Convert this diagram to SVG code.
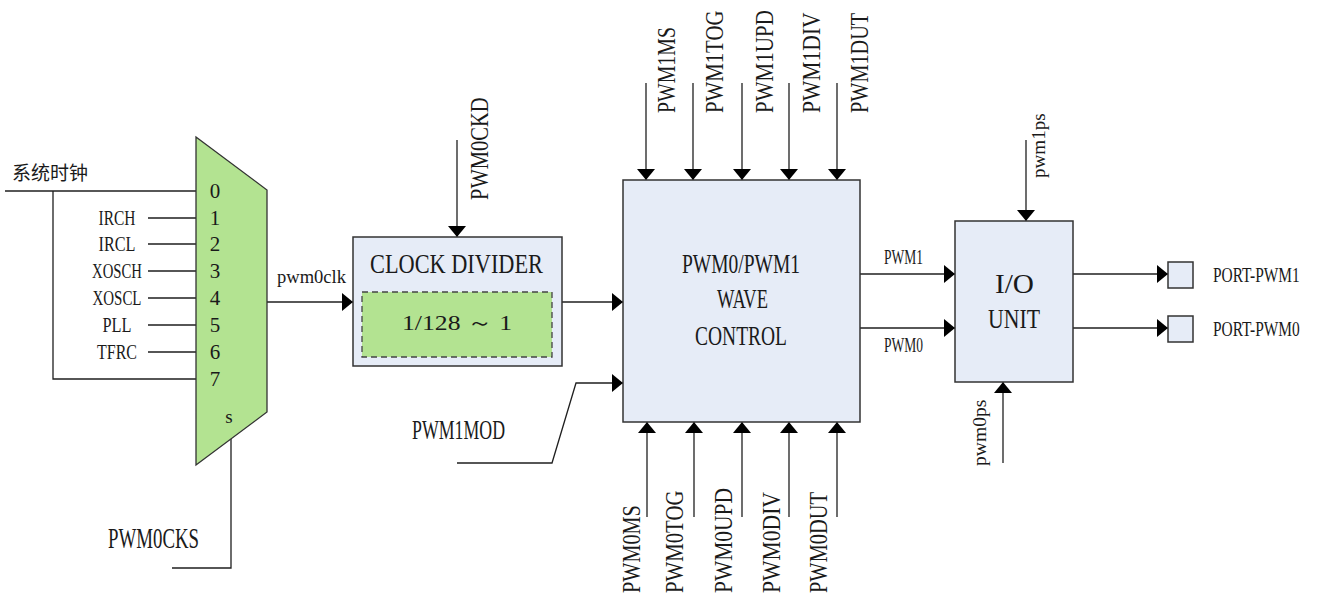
<svg xmlns="http://www.w3.org/2000/svg" width="1322" height="601" viewBox="0 0 1322 601">
<style>
.t{font-family:"Liberation Serif","Times New Roman",serif;fill:#1a1a1a}
.cjk{font-family:"Noto Sans CJK SC","Noto Sans",sans-serif;fill:#1a1a1a}
.ln{fill:none;stroke:#1f1f1f;stroke-width:1.3}
.box{fill:#e6ecf7;stroke:#333;stroke-width:1.5}
</style>
<defs>
<marker id="ah" viewBox="0 0 11 18" refX="11" refY="9" markerWidth="11" markerHeight="18" markerUnits="userSpaceOnUse" orient="auto">
<path d="M0,0 L11,9 L0,18 z" fill="#000"/>
</marker>
</defs>
<rect width="1322" height="601" fill="#fff"/>

<g id="connectors">
<path class="ln" d="M5,191 H196"/>
<path class="ln" d="M53,191 V379 H196"/>
<path class="ln" d="M148,218 H196 M148,244 H196 M148,271 H196 M148,298 H196 M148,325 H196 M148,352 H196"/>
<path class="ln" d="M231,437 V568 H172"/>
<path class="ln" d="M267,302 H353" marker-end="url(#ah)"/>
<path class="ln" d="M457,140 V237" marker-end="url(#ah)"/>
<path class="ln" d="M562,302 H623" marker-end="url(#ah)"/>
<path class="ln" d="M457,463 H552 L576,383 H623" marker-end="url(#ah)"/>
<path class="ln" d="M646,83 V180" marker-end="url(#ah)"/>
<path class="ln" d="M693,83 V180" marker-end="url(#ah)"/>
<path class="ln" d="M742,83 V180" marker-end="url(#ah)"/>
<path class="ln" d="M789,83 V180" marker-end="url(#ah)"/>
<path class="ln" d="M837,83 V180" marker-end="url(#ah)"/>
<path class="ln" d="M647,517 V422" marker-end="url(#ah)"/>
<path class="ln" d="M694,517 V422" marker-end="url(#ah)"/>
<path class="ln" d="M742,517 V422" marker-end="url(#ah)"/>
<path class="ln" d="M789,517 V422" marker-end="url(#ah)"/>
<path class="ln" d="M837,517 V422" marker-end="url(#ah)"/>
<path class="ln" d="M860,274 H955" marker-end="url(#ah)"/>
<path class="ln" d="M860,328 H955" marker-end="url(#ah)"/>
<path class="ln" d="M1026,140 V221" marker-end="url(#ah)"/>
<path class="ln" d="M1003,463 V382" marker-end="url(#ah)"/>
<path class="ln" d="M1073,274 H1168" marker-end="url(#ah)"/>
<path class="ln" d="M1073,328 H1168" marker-end="url(#ah)"/>
</g>

<g id="inputs">
<text class="cjk" x="12" y="180" font-size="19">系统时钟</text>
<text class="t" x="117" y="225" font-size="21" text-anchor="middle" textLength="37" lengthAdjust="spacingAndGlyphs">IRCH</text>
<text class="t" x="117" y="251" font-size="21" text-anchor="middle" textLength="37" lengthAdjust="spacingAndGlyphs">IRCL</text>
<text class="t" x="117" y="278" font-size="21" text-anchor="middle" textLength="50" lengthAdjust="spacingAndGlyphs">XOSCH</text>
<text class="t" x="117" y="305" font-size="21" text-anchor="middle" textLength="49" lengthAdjust="spacingAndGlyphs">XOSCL</text>
<text class="t" x="117" y="332" font-size="21" text-anchor="middle" textLength="29" lengthAdjust="spacingAndGlyphs">PLL</text>
<text class="t" x="117" y="359" font-size="21" text-anchor="middle" textLength="40" lengthAdjust="spacingAndGlyphs">TFRC</text>
<text class="t" x="108" y="548" font-size="29" textLength="91" lengthAdjust="spacingAndGlyphs">PWM0CKS</text>
<text class="t" x="412" y="439" font-size="28" textLength="93" lengthAdjust="spacingAndGlyphs">PWM1MOD</text>
<text class="t" x="277" y="283" font-size="18" textLength="69" lengthAdjust="spacingAndGlyphs">pwm0clk</text>
</g>

<g id="mux">
<polygon points="196,137 267,190 267,412 196,465" fill="#b3e391" stroke="#333" stroke-width="1.3"/>
<g class="t" font-size="21" text-anchor="middle">
<text x="215" y="198">0</text>
<text x="215" y="225">1</text>
<text x="215" y="251">2</text>
<text x="215" y="278">3</text>
<text x="215" y="305">4</text>
<text x="215" y="332">5</text>
<text x="215" y="359">6</text>
<text x="215" y="386">7</text>
<text x="229" y="423" font-size="19">s</text>
</g>
</g>

<g id="clock-divider">
<rect class="box" x="353" y="237" width="209" height="129"/>
<text class="t" x="370" y="273" font-size="28" textLength="173" lengthAdjust="spacingAndGlyphs">CLOCK DIVIDER</text>
<rect x="362" y="292" width="190" height="65" fill="#b3e391" stroke="#444" stroke-width="1.3" stroke-dasharray="6,4"/>
<text class="t" x="402" y="330" font-size="22" textLength="110" lengthAdjust="spacingAndGlyphs">1/128 ～ 1</text>
<text class="t" transform="translate(488,200) rotate(-90) scale(0.79,1)" font-size="26">PWM0CKD</text>
</g>

<g id="wave-control">
<rect class="box" x="623" y="180" width="237" height="242"/>
<text class="t" x="682" y="273" font-size="28" textLength="118" lengthAdjust="spacingAndGlyphs">PWM0/PWM1</text>
<text class="t" x="717" y="308" font-size="28" textLength="51" lengthAdjust="spacingAndGlyphs">WAVE</text>
<text class="t" x="695" y="345" font-size="28" textLength="92" lengthAdjust="spacingAndGlyphs">CONTROL</text>
</g>

<g id="top-labels" class="t" font-size="26">
<text transform="translate(675,113) rotate(-90) scale(0.763,1)">PWM1MS</text>
<text transform="translate(723,113) rotate(-90) scale(0.80,1)">PWM1TOG</text>
<text transform="translate(773,113) rotate(-90) scale(0.81,1)">PWM1UPD</text>
<text transform="translate(820,113) rotate(-90) scale(0.83,1)">PWM1DIV</text>
<text transform="translate(868,113) rotate(-90) scale(0.78,1)">PWM1DUT</text>
</g>

<g id="bottom-labels" class="t" font-size="26">
<text transform="translate(640,593) rotate(-90) scale(0.78,1)">PWM0MS</text>
<text transform="translate(683,593) rotate(-90) scale(0.80,1)">PWM0TOG</text>
<text transform="translate(732,593) rotate(-90) scale(0.826,1)">PWM0UPD</text>
<text transform="translate(780,593) rotate(-90) scale(0.833,1)">PWM0DIV</text>
<text transform="translate(827,593) rotate(-90) scale(0.786,1)">PWM0DUT</text>
</g>

<g id="io-unit">
<text class="t" x="884" y="264" font-size="20" textLength="39" lengthAdjust="spacingAndGlyphs">PWM1</text>
<text class="t" x="884" y="352" font-size="20" textLength="39" lengthAdjust="spacingAndGlyphs">PWM0</text>
<rect class="box" x="955" y="221" width="118" height="161"/>
<text class="t" x="995" y="293" font-size="28" textLength="39" lengthAdjust="spacingAndGlyphs">I/O</text>
<text class="t" x="988" y="328" font-size="28" textLength="52" lengthAdjust="spacingAndGlyphs">UNIT</text>
<text class="t" transform="translate(1045,178) rotate(-90) scale(1.06,1)" font-size="18">pwm1ps</text>
<text class="t" transform="translate(986,466) rotate(-90) scale(1.09,1)" font-size="18">pwm0ps</text>
</g>

<g id="port-pwm1">
<rect class="box" x="1168" y="262" width="25" height="26" stroke-width="1.3"/>
<text class="t" transform="translate(1213,282) scale(0.735,1)" font-size="21">PORT-PWM1</text>
</g>
<g id="port-pwm0">
<rect class="box" x="1168" y="316" width="25" height="26" stroke-width="1.3"/>
<text class="t" transform="translate(1213,336) scale(0.735,1)" font-size="21">PORT-PWM0</text>
</g>
</svg>
